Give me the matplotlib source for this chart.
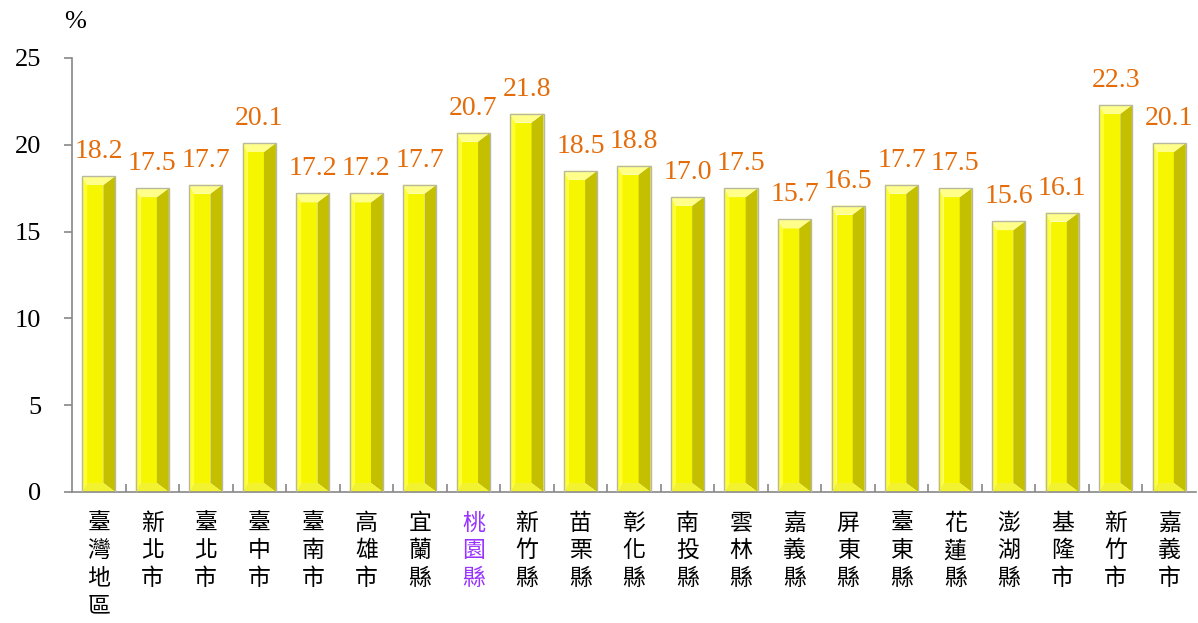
import matplotlib
matplotlib.use("Agg")
import matplotlib.pyplot as plt
from matplotlib.patches import Polygon

categories = ["臺灣地區", "新北市", "臺北市", "臺中市", "臺南市", "高雄市", "宜蘭縣", "桃園縣",
              "新竹縣", "苗栗縣", "彰化縣", "南投縣", "雲林縣", "嘉義縣", "屏東縣", "臺東縣",
              "花蓮縣", "澎湖縣", "基隆市", "新竹市", "嘉義市"]
values = [18.2, 17.5, 17.7, 20.1, 17.2, 17.2, 17.7, 20.7, 21.8, 18.5, 18.8, 17.0, 17.5,
          15.7, 16.5, 17.7, 17.5, 15.6, 16.1, 22.3, 20.1]
highlight = "桃園縣"
yticks = [0, 5, 10, 15, 20, 25]

W, H = 1198, 623
fig = plt.figure(figsize=(W / 100, H / 100), dpi=100)
ax_l, ax_r, ax_t, ax_b = 72, 1196, 58, 492
ax = fig.add_axes([ax_l / W, (H - ax_b) / H, (ax_r - ax_l) / W, (ax_b - ax_t) / H])
n = len(categories)
ax.set_xlim(-0.5, n - 0.5)
ax.set_ylim(0, 25)

px_x = n / (ax_r - ax_l)
px_y = 25 / (ax_b - ax_t)

bw = 0.62
for i, v in enumerate(values):
    x0, x1 = i - bw / 2, i + bw / 2
    y0, y1 = 0, v
    dt = 9 * px_y
    db = 9 * px_y
    dr = 12 * px_x
    dl = 5 * px_x
    ix0, ix1 = x0 + dl, x1 - dr
    iy0, iy1 = y0 + db, y1 - dt
    ax.add_patch(Polygon([(ix0, iy0), (ix1, iy0), (ix1, iy1), (ix0, iy1)], closed=True,
                         facecolor="#f6f600", edgecolor="none", zorder=2))
    ax.add_patch(Polygon([(x0, y0), (ix0, iy0), (ix0, iy1), (x0, y1)], closed=True,
                         facecolor="#ffff30", edgecolor="none", zorder=2))
    ax.add_patch(Polygon([(x1, y0), (ix1, iy0), (ix1, iy1), (x1, y1)], closed=True,
                         facecolor="#c4c000", edgecolor="none", zorder=2))
    ax.add_patch(Polygon([(x0, y1), (x1, y1), (ix1, iy1), (ix0, iy1)], closed=True,
                         facecolor="#ffff8a", edgecolor="none", zorder=2))
    ax.add_patch(Polygon([(x0, y0), (x1, y0), (ix1, iy0), (ix0, iy0)], closed=True,
                         facecolor="#f2f230", edgecolor="none", zorder=2))
    ax.add_patch(Polygon([(x0, y0), (x1, y0), (x1, y1), (x0, y1)], closed=True,
                         facecolor="none", edgecolor="#b8b8a0", linewidth=1.0, zorder=3))
    ax.text(i, v + 12 * px_y, f"{v:.1f}", ha="center", va="bottom", color="#e46c0a",
            fontsize=20, family="Liberation Serif", zorder=4)

for s in ["top", "right"]:
    ax.spines[s].set_visible(False)
for s in ["left", "bottom"]:
    ax.spines[s].set_color("#888888")
    ax.spines[s].set_linewidth(1.2)

ax.set_yticks(yticks)
ax.set_yticklabels([str(t) for t in yticks], family="Liberation Serif", fontsize=19)
ax.tick_params(axis="y", direction="out", length=6, color="#888888", width=1.2, pad=16)

ax.set_xticks([i + 0.5 for i in range(n - 1)])
ax.set_xticklabels([])
ax.tick_params(axis="x", direction="in", length=6, color="#888888", width=1.2)

for i, c in enumerate(categories):
    col = "#9933ff" if c == highlight else "black"
    ax.text(i, -20 * px_y, "\n".join(c), ha="center", va="top", fontsize=16.5,
            family=["Noto Sans CJK TC"], color=col, linespacing=1.24,
            transform=ax.transData, clip_on=False)

fig.text(75 / W, 1 - 22 / H, "%", ha="center", va="center", fontsize=19,
         family="Liberation Serif")

fig.savefig("out.png", dpi=100)
